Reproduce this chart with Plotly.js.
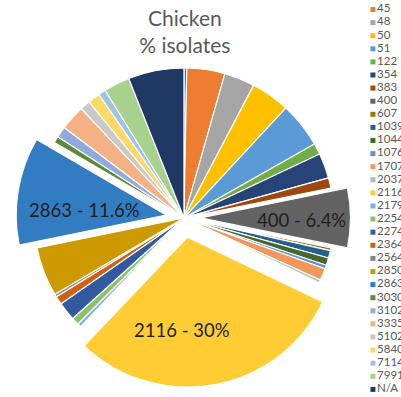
<!DOCTYPE html>
<html>
<head>
<meta charset="utf-8">
<script src="https://cdn.plot.ly/plotly-3.0.1.min.js"></script>
<style>
  html, body { margin: 0; padding: 0; background: #ffffff; }
  #chart { width: 401px; height: 397px; }
</style>
</head>
<body>
<div id="chart"></div>
<script>
// Categories (sequence types), legend order = slice order (clockwise from 12 o'clock)
const categories = ["21", "45", "48", "50", "51", "122", "354", "383", "400", "607",
  "1039", "1044", "1076", "1707", "2037", "2116", "2179", "2254", "2274", "2364",
  "2564", "2850", "2863", "3030", "3102", "3335", "5102", "5840", "7114", "7991", "N/A"];

// % isolates
const percentIsolates = [0.3, 4.1, 3.3, 4.2, 4.9, 1.2, 2.7, 1.1, 6.4, 0.3,
  0.8, 0.8, 0.4, 1.3, 0.3, 30, 0.4, 0.8, 2.0, 0.9,
  0.3, 5.3, 11.6, 0.7, 1.2, 2.7, 1.1, 1.3, 0.8, 2.8, 6.0];

// Slices that are pulled out and labelled
const highlighted = ["400", "2116", "2863"];
const pullAmounts = { "400": 0.11, "2116": 0.13, "2863": 0.12 };
// label placement (paper coordinates) for the highlighted slices
const labelPlacement = { "400": [0.753, 0.446], "2116": [0.454, 0.169], "2863": [0.2095, 0.471] };

// Office-style palette
const sliceColors = ["#4472C4", "#ED7D31", "#A5A5A5", "#FFC000", "#5B9BD5", "#70AD47",
  "#264478", "#9E480E", "#636363", "#997300", "#255E91", "#43682B",
  "#698ED0", "#F1975A", "#B7B7B7", "#FFCD33", "#7CAFDD", "#8CC168",
  "#335AA1", "#D26012", "#848484", "#CC9A00", "#327DC2", "#5A8A39",
  "#8FAADC", "#F4B183", "#C9C9C9", "#FFD966", "#9DC3E6", "#A9D18E", "#203864"];

const FONT = "Lato, 'Open Sans', 'DejaVu Sans', sans-serif";

const pie = {
  type: "pie",
  labels: categories,
  values: percentIsolates,
  sort: false,
  direction: "clockwise",
  rotation: 0,
  marker: { colors: sliceColors, line: { color: "#ffffff", width: 1.2 } },
  pull: categories.map(c => pullAmounts[c] || 0),
  textinfo: "none",
  hoverinfo: "skip",
  showlegend: false,
  domain: { x: [0.036, 0.8815], y: [0.024, 0.878] }
};

// Legend drawn as a scatter on a hidden axis
const legendTrace = {
  type: "scatter",
  mode: "markers+text",
  x: categories.map(() => 0),
  y: categories.map((c, i) => i),
  text: categories,
  textposition: "middle right",
  textfont: { family: FONT, size: 11.5, color: "#595959" },
  marker: { symbol: "square", size: 5, color: sliceColors },
  cliponaxis: true,
  hoverinfo: "skip",
  showlegend: false,
  xaxis: "x",
  yaxis: "y"
};

const sliceLabels = highlighted.map(c => {
  const i = categories.indexOf(c);
  return {
    text: c + " - " + percentIsolates[i] + "%",
    xref: "paper", yref: "paper",
    x: labelPlacement[c][0], y: labelPlacement[c][1],
    xanchor: "center", yanchor: "middle",
    showarrow: false,
    font: { family: FONT, size: 18.5, color: "#1f1f1f" }
  };
});

const layout = {
  width: 401,
  height: 397,
  margin: { l: 0, r: 0, t: 0, b: 0 },
  paper_bgcolor: "#ffffff",
  plot_bgcolor: "rgba(0,0,0,0)",
  showlegend: false,
  font: { family: FONT, color: "#595959" },
  title: {
    text: "Chicken<br>% isolates",
    font: { family: FONT, size: 21, color: "#595959" },
    x: 0.461, xanchor: "center", xref: "paper",
    y: 0.935, yanchor: "top", yref: "container"
  },
  annotations: sliceLabels,
  xaxis: { domain: [0.92, 1], range: [-0.5, 3.5], visible: false, fixedrange: true },
  yaxis: { domain: [0, 1], range: [30.58, 0.275], visible: false, fixedrange: true }
};

Plotly.newPlot("chart", [pie, legendTrace], layout, { displayModeBar: false, staticPlot: true });
</script>
</body>
</html>
